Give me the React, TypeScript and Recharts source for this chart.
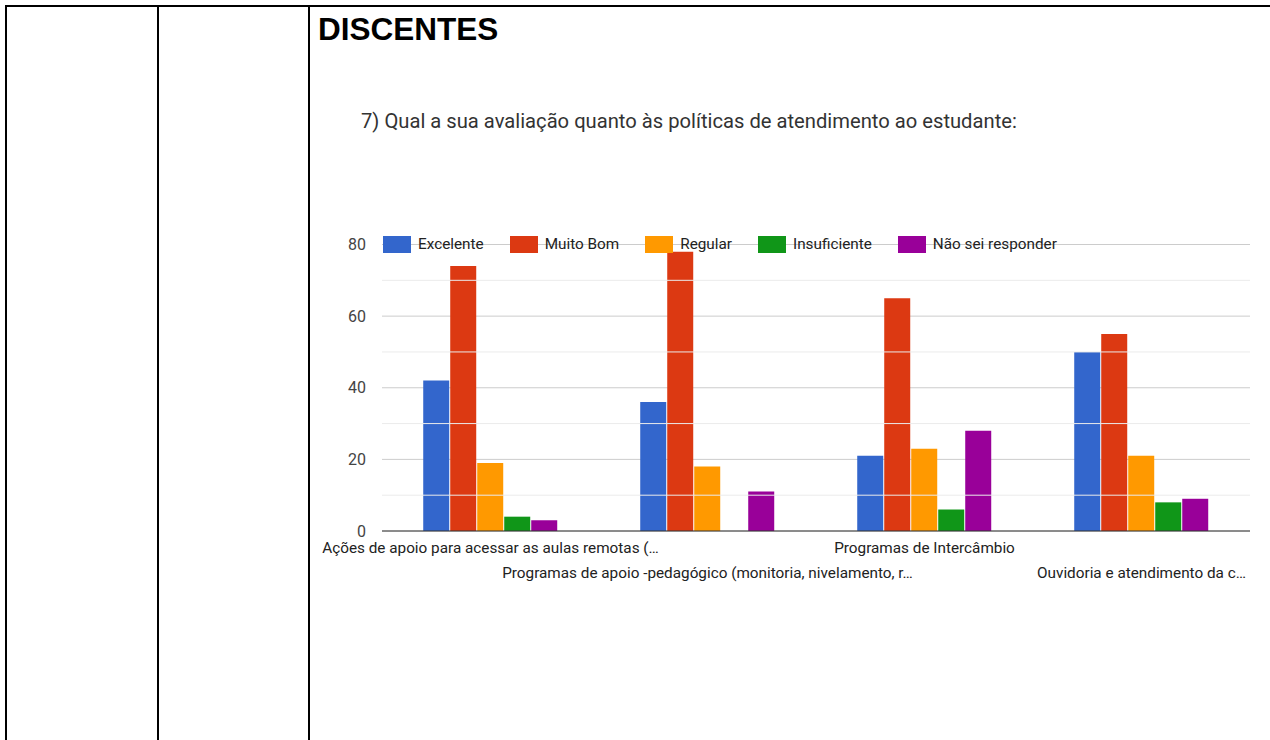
import {
  Bar,
  BarChart,
  CartesianGrid,
  Legend,
  ReferenceLine,
  XAxis,
  YAxis,
} from "recharts";

const categories = [
  "Ações de apoio para acessar as aulas remotas (…",
  "Programas de apoio -pedagógico (monitoria, nivelamento, r…",
  "Programas de Intercâmbio",
  "Ouvidoria e atendimento da c…",
];
const excelente = [42, 36, 21, 50];
const muitoBom = [74, 78, 65, 55];
const regular = [19, 18, 23, 21];
const insuficiente = [4, 0, 6, 8];
const naoSei = [3, 11, 28, 9];
const yTicks = [0, 20, 40, 60, 80];
const minorTicks = [10, 30, 50, 70];

const series = [
  { key: "excelente", name: "Excelente", color: "#3366cc" },
  { key: "muitoBom", name: "Muito Bom", color: "#dc3912" },
  { key: "regular", name: "Regular", color: "#ff9900" },
  { key: "insuficiente", name: "Insuficiente", color: "#109618" },
  { key: "naoSei", name: "Não sei responder", color: "#990099" },
];

const FONT = "Roboto, Arial, sans-serif";

function XTick({ x, y, payload, index }: any) {
  const dy = index % 2 === 0 ? 17 : 42;
  return (
    <text
      x={x}
      y={y + dy}
      textAnchor="middle"
      dominantBaseline="central"
      fontFamily={FONT}
      fontSize={15.3}
      fill="#222"
    >
      {payload.value}
    </text>
  );
}

function LegendBox() {
  return (
    <div style={{ display: "flex", alignItems: "center", fontFamily: FONT, fontSize: 15.3, color: "#222", whiteSpace: "nowrap" }}>
      {series.map((s) => (
        <div key={s.key} style={{ display: "flex", alignItems: "center", marginRight: 26 }}>
          <div style={{ width: 28, height: 17, background: s.color, marginRight: 7 }} />
          <span>{s.name}</span>
        </div>
      ))}
    </div>
  );
}

export default function App() {
  const data = categories.map((c, i) => ({
    name: c,
    excelente: excelente[i],
    muitoBom: muitoBom[i],
    regular: regular[i],
    insuficiente: insuficiente[i],
    naoSei: naoSei[i],
  }));

  return (
    <div style={{ position: "absolute", left: 0, top: 0, width: 1270, height: 740, background: "#fff", overflow: "hidden" }}>
      {/* table borders */}
      <div style={{ position: "absolute", left: 5, top: 5, width: 1265, height: 2, background: "#000" }} />
      <div style={{ position: "absolute", left: 5, top: 5, width: 2, height: 735, background: "#000" }} />
      <div style={{ position: "absolute", left: 157, top: 5, width: 2, height: 735, background: "#000" }} />
      <div style={{ position: "absolute", left: 308, top: 5, width: 2, height: 735, background: "#000" }} />

      <div style={{ position: "absolute", left: 318, top: 11, fontFamily: "'Liberation Sans', Arial, sans-serif", fontWeight: "bold", fontSize: 31.5, color: "#000" }}>
        DISCENTES
      </div>
      <div style={{ position: "absolute", left: 361, top: 109, fontFamily: FONT, fontSize: 20.2, color: "#333", whiteSpace: "nowrap" }}>
        7) Qual a sua avaliação quanto às políticas de atendimento ao estudante:
      </div>

      <div style={{ position: "absolute", left: 310, top: 200 }}>
        <BarChart
          width={960}
          height={400}
          data={data}
          margin={{ top: 44.5, right: 20, bottom: 9, left: 0 }}
          barCategoryGap="19%"
          barGap={1}
        >
          <CartesianGrid vertical={false} stroke="#cccccc" />
          {minorTicks.map((t) => (
            <ReferenceLine key={t} y={t} stroke="#ebebeb" />
          ))}
          <XAxis
            dataKey="name"
            interval={0}
            tickLine={false}
            tickSize={0}
            tickMargin={0}
            axisLine={{ stroke: "#333" }}
            height={60}
            tick={<XTick />}
          />
          <YAxis
            domain={[0, 80]}
            ticks={yTicks}
            width={72}
            axisLine={false}
            tickLine={false}
            tickMargin={10}
            tick={{ fontFamily: FONT, fontSize: 16, fill: "#444" }}
          />
          <Legend
            verticalAlign="middle"
            layout="horizontal"
            wrapperStyle={{ top: 35, left: 73, width: "auto" }}
            content={() => <LegendBox />}
          />
          {series.map((s) => (
            <Bar key={s.key} dataKey={s.key} name={s.name} fill={s.color} isAnimationActive={false} />
          ))}
        </BarChart>
      </div>
    </div>
  );
}
